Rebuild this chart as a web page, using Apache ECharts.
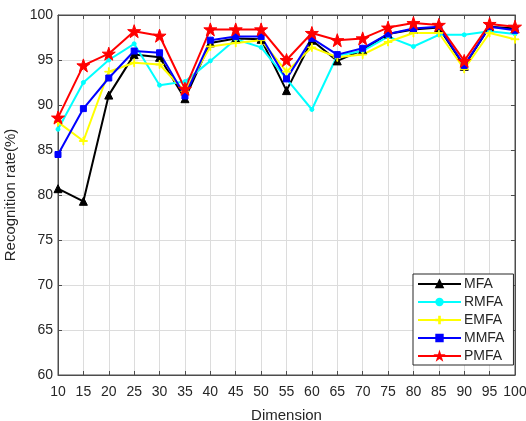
<!DOCTYPE html>
<html>
<head>
<meta charset="utf-8">
<style>
  html, body { margin: 0; padding: 0; background: #fff; }
  #chart { width: 526px; height: 421px; }
</style>
<script src="https://cdn.jsdelivr.net/npm/echarts@6/dist/echarts.min.js"></script>
</head>
<body>
<div id="chart"></div>
<script>
const dims = [10, 15, 20, 25, 30, 35, 40, 45, 50, 55, 60, 65, 70, 75, 80, 85, 90, 95, 100]

const mfa  = [80.7, 79.3, 91.1, 95.6, 95.3, 90.7, 96.9, 97.4, 97.3, 91.6, 97.2, 94.9, 96.1, 97.9, 98.4, 98.6, 94.3, 98.7, 98.5]
const rmfa = [87.3, 92.5, 95.0, 96.8, 92.2, 92.6, 94.9, 97.3, 96.4, 92.9, 89.5, 95.5, 96.0, 97.6, 96.5, 97.8, 97.8, 98.2, 97.9]
const emfa = [88.1, 86.0, 93.7, 94.7, 94.5, 91.5, 96.5, 96.9, 97.2, 93.7, 96.4, 95.3, 95.6, 97.0, 98.0, 98.0, 94.0, 98.0, 97.3]
const mmfa = [84.5, 89.6, 93.0, 96.0, 95.8, 91.0, 97.2, 97.6, 97.6, 92.9, 97.4, 95.6, 96.3, 97.9, 98.5, 98.7, 94.4, 98.7, 98.3]
const pmfa = [88.6, 94.4, 95.7, 98.2, 97.7, 91.8, 98.4, 98.4, 98.4, 95.0, 98.0, 97.2, 97.4, 98.6, 99.1, 98.9, 94.9, 99.0, 98.7]

const starPath = 'path://M50,0 L61.8,35.4 L97.6,35.4 L68.8,57.3 L79.4,92.7 L50,71 L20.6,92.7 L31.2,57.3 L2.4,35.4 L38.2,35.4 Z'
const plusPath = 'path://M45,0 L55,0 L55,45 L100,45 L100,55 L55,55 L55,100 L45,100 L45,55 L0,55 L0,45 L45,45 Z'

const textColor = '#262626'
const axisColor = '#4d4d4d'
const fontFamily = 'Liberation Sans, Arial, sans-serif'

function makeSeries(name, data, color, symbol, size) {
  return {
    name,
    type: 'line',
    data: dims.map((d, i) => [d, data[i]]),
    symbol,
    symbolSize: size,
    showAllSymbol: true,
    lineStyle: { color, width: 2 },
    itemStyle: { color, borderColor: color, borderWidth: 1 },
    emphasis: { disabled: true },
    animation: false,
  }
}

const chart = echarts.init(document.getElementById('chart'))

const tickCommon = { inside: true, length: 4, lineStyle: { color: axisColor } }

chart.setOption({
  backgroundColor: '#fff',
  textStyle: { fontFamily },
  grid: {
    left: 58,
    right: 11,
    top: 15,
    bottom: 46,
    outerBoundsMode: 'none',
    containLabel: false,
    show: true,
    borderColor: axisColor,
    borderWidth: 1,
  },
  legend: {
    orient: 'vertical',
    left: 413,
    top: 274,
    itemWidth: 43,
    itemHeight: 8,
    itemGap: 4,
    padding: [3, 9, 2, 4],
    backgroundColor: '#fff',
    borderColor: textColor,
    borderWidth: 1,
    borderRadius: 0,
    textStyle: { color: textColor, fontSize: 14, fontFamily, padding: [0, 0, 0, -2] },
    data: ['MFA', 'RMFA', 'EMFA', 'MMFA', 'PMFA'],
  },
  xAxis: [
    {
      type: 'value',
      min: 10,
      max: 100,
      interval: 5,
      name: 'Dimension',
      nameLocation: 'middle',
      nameGap: 33,
      nameTextStyle: { color: textColor, fontSize: 15, fontFamily },
      axisLine: { show: true, lineStyle: { color: axisColor } },
      axisTick: tickCommon,
      axisLabel: { color: textColor, fontSize: 14, margin: 10, fontFamily },
      splitLine: { show: true, lineStyle: { color: '#dcdcdc', width: 1 } },
    },
    {
      type: 'value',
      position: 'top',
      min: 10,
      max: 100,
      interval: 5,
      axisLine: { show: true, lineStyle: { color: axisColor } },
      axisTick: tickCommon,
      axisLabel: { show: false },
      splitLine: { show: false },
    },
  ],
  yAxis: [
    {
      type: 'value',
      min: 60,
      max: 100,
      interval: 5,
      name: 'Recognition rate(%)',
      nameLocation: 'middle',
      nameGap: 37,
      nameTextStyle: { color: textColor, fontSize: 15, fontFamily },
      axisLine: { show: true, lineStyle: { color: axisColor } },
      axisTick: tickCommon,
      axisLabel: { color: textColor, fontSize: 14, margin: 5, fontFamily },
      splitLine: { show: true, lineStyle: { color: '#dcdcdc', width: 1 } },
    },
    {
      type: 'value',
      position: 'right',
      min: 60,
      max: 100,
      interval: 5,
      axisLine: { show: true, lineStyle: { color: axisColor } },
      axisTick: tickCommon,
      axisLabel: { show: false },
      splitLine: { show: false },
    },
  ],
  series: [
    makeSeries('MFA', mfa, '#000000', 'triangle', 8),
    makeSeries('RMFA', rmfa, '#00ffff', 'circle', 4),
    makeSeries('EMFA', emfa, '#ffff00', plusPath, 8),
    makeSeries('MMFA', mmfa, '#0000ff', 'rect', 6),
    makeSeries('PMFA', pmfa, '#ff0000', starPath, 13),
  ],
})
</script>
</body>
</html>
